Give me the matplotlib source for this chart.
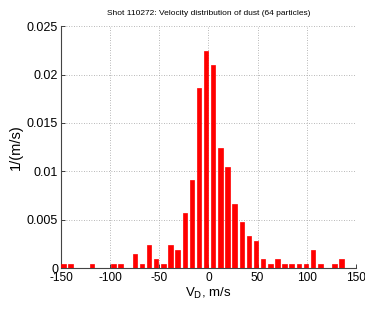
import matplotlib
matplotlib.use("Agg")
import matplotlib.pyplot as plt

# Bin centres (m/s) and normalised density (1/(m/s))
bin_centers = [-147.4, -140.1, -132.9, -125.6, -118.4, -111.1, -103.9, -96.6,
               -89.4, -82.1, -74.9, -67.6, -60.3, -53.1, -45.8, -38.6,
               -31.3, -24.1, -16.8, -9.6, -2.3, 4.9, 12.2, 19.4,
               26.7, 33.9, 41.2, 48.5, 55.7, 63.0, 70.2, 77.5,
               84.7, 92.0, 99.2, 106.5, 113.8, 121.0, 128.3, 135.5]
density = [0.00048, 0.00048, 0.0, 0.0, 0.00048, 0.0, 0.0, 0.00048,
           0.00048, 0.0, 0.00143, 0.00048, 0.00239, 0.00096, 0.00048, 0.00239,
           0.00191, 0.00573, 0.00907, 0.01862, 0.02244, 0.02101, 0.01241, 0.01050,
           0.00668, 0.00477, 0.00334, 0.00287, 0.00096, 0.00048, 0.00096, 0.00048,
           0.00048, 0.00048, 0.00048, 0.00191, 0.00048, 0.0, 0.00048, 0.00096]
bin_width = 7.26

x_ticks = [-150, -100, -50, 0, 50, 100, 150]
x_ticklabels = ["-150", "-100", "-50", "0", "50", "100", "150"]
y_ticks = [0, 0.005, 0.01, 0.015, 0.02, 0.025]
y_ticklabels = ["0", "0.005", "0.01", "0.015", "0.02", "0.025"]

plt.rcParams['font.family'] = ['Liberation Sans', 'DejaVu Sans']

fig = plt.figure(figsize=(3.65, 3.14), dpi=100)
ax = fig.add_axes([0.167, 0.1455, 0.808, 0.7715])

ax.bar(bin_centers, density, width=bin_width * 0.62, color='#ff0000',
       edgecolor='#ff0000', linewidth=0.5, zorder=3)

ax.set_xlim(-150, 150)
ax.set_ylim(0, 0.025)
ax.set_xticks(x_ticks)
ax.set_xticklabels(x_ticklabels)
ax.set_yticks(y_ticks)
ax.set_yticklabels(y_ticklabels)

ax.grid(True, linestyle=(0, (1, 2)), color='#a0a0a0', linewidth=0.6, zorder=0)
for s in ['top', 'right']:
    ax.spines[s].set_visible(False)
for s in ['left', 'bottom']:
    ax.spines[s].set_color('#444444')
    ax.spines[s].set_linewidth(0.8)

ax.tick_params(axis='both', direction='in', length=3, width=0.6,
               colors='#222222', labelcolor='black')
ax.tick_params(axis='x', pad=3, labelsize=8.6)
ax.tick_params(axis='y', pad=2, labelsize=9)

ax.set_title("Shot 110272: Velocity distribution of dust (64 particles)",
             fontsize=6, pad=8)
ax.set_ylabel("1/(m/s)", fontsize=10.5, labelpad=3)
ax.set_xlabel(r"V$_{\mathrm{D}}$, m/s", fontsize=9.5, labelpad=1)

fig.savefig("out.png", dpi=100)
